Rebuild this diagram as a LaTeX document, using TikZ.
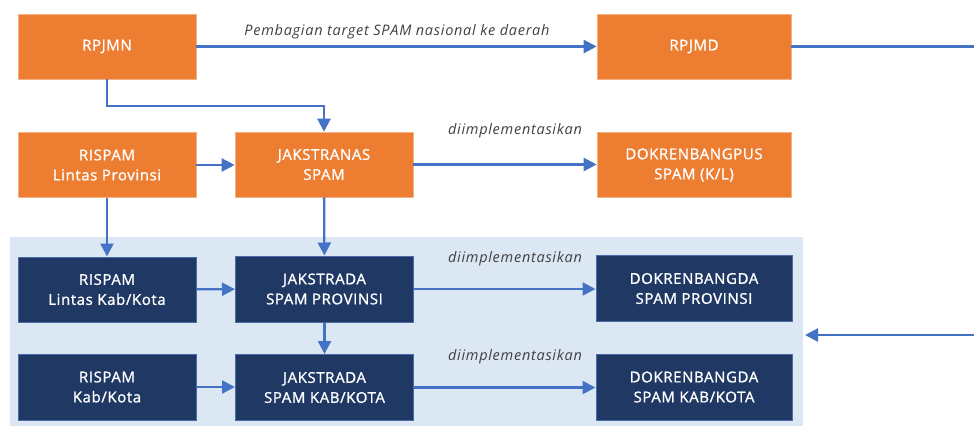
\documentclass[tikz,border=0pt]{standalone}
\usepackage{fontspec}
\setsansfont{Open Sans}
\newfontfamily\kotakfont{Open Sans}[FakeBold=1.2, LetterSpace=4]
\newfontfamily\ketfont{Open Sans}[LetterSpace=5]
\usetikzlibrary{arrows.meta}
\definecolor{boxorange}{HTML}{ED7D31}
\definecolor{boxnavy}{HTML}{1F3864}
\definecolor{navyedge}{HTML}{4A6AA8}
\definecolor{linkblue}{HTML}{4472C4}
\definecolor{bandblue}{HTML}{DCE7F4}
\definecolor{labelgray}{HTML}{404040}

\begin{document}
\begin{tikzpicture}[x=1pt, y=-1pt,
  pusat/.style={shape=rectangle, fill=boxorange, draw=boxorange!60!white, line width=0.6pt,
    text=white, font=\kotakfont\fontsize{15}{20}\selectfont, align=center,
    minimum width=178pt, minimum height=65pt, inner sep=0pt},
  daerah/.style={pusat, fill=boxnavy, draw=navyedge, line width=1pt},
  panah/.style={draw=linkblue, line width=2.3pt, -{Triangle[length=13pt, width=13pt]}},
  garis/.style={draw=linkblue, line width=2.3pt},
  ket/.style={font=\ketfont\itshape\fontsize{14.5}{16}\selectfont, text=labelgray, inner sep=0pt}]
  \useasboundingbox (0, 0) rectangle (974, 426);
  \fill[bandblue] (10, 237) rectangle (803, 426);
  \node (rpjmn) at (107, 46.5) [pusat] {RPJMN};
  \node (rpjmd) at (694, 46.5) [pusat, minimum width=194pt] {RPJMD};
  \node (rispamLP) at (107, 165) [pusat] {RISPAM\\Lintas Provinsi};
  \node (jaknas) at (324, 164.5) [pusat] {JAKSTRANAS\\SPAM};
  \node (dokpus) at (694, 165) [pusat, minimum width=194pt] {DOKRENBANGPUS\\SPAM (K/L)};
  \node (rispamLK) at (107, 289.5) [daerah] {RISPAM\\Lintas Kab/Kota};
  \node (jakprov) at (324.5, 289) [daerah, minimum height=66pt] {JAKSTRADA\\SPAM PROVINSI};
  \node (dokprov) at (694, 288.5) [daerah, minimum width=196pt, minimum height=66pt] {DOKRENBANGDA\\SPAM PROVINSI};
  \node (rispamK) at (107, 387) [daerah, minimum height=66pt] {RISPAM\\Kab/Kota};
  \node (jakkab) at (324.5, 387.5) [daerah, minimum height=66pt] {JAKSTRADA\\SPAM KAB/KOTA};
  \node (dokkab) at (694, 387) [daerah, minimum width=196pt, minimum height=66pt] {DOKRENBANGDA\\SPAM KAB/KOTA};
  \node (ket1) at (397, 32) [ket] {Pembagian target SPAM nasional ke daerah};
  \node (ket2) at (515, 131) [ket] {diimplementasikan};
  \node (ket3) at (515, 259) [ket] {diimplementasikan};
  \node (ket4) at (515, 357) [ket] {diimplementasikan};
  \coordinate (ujungatas) at (974, 46.5);
  \coordinate (ujungbawah) at (974, 335);
  \coordinate (masuk) at (805, 335);
  \draw[panah] (rpjmn) -- (rpjmd);
  \draw[garis] (rpjmd) -- (ujungatas);
  \draw[panah] (rpjmn.south) -- ++(0, 27) -| (jaknas.north);
  \draw[panah] (rispamLP) -- (jaknas.west |- rispamLP);
  \draw[panah] (jaknas) -- (dokpus.west |- jaknas);
  \draw[panah] (rispamLP) -- (rispamLK);
  \draw[panah] (jaknas) -- (jakprov);
  \draw[panah] (rispamLK) -- (jakprov);
  \draw[panah] (jakprov) -- (dokprov.west |- jakprov);
  \draw[panah] (jakprov) -- (jakkab.north -| jakprov);
  \draw[panah] (rispamK) -- (jakkab.west |- rispamK);
  \draw[panah] (jakkab) -- (dokkab.west |- jakkab);
  \draw[panah] (ujungbawah) -- (masuk);
\end{tikzpicture}
\end{document}
